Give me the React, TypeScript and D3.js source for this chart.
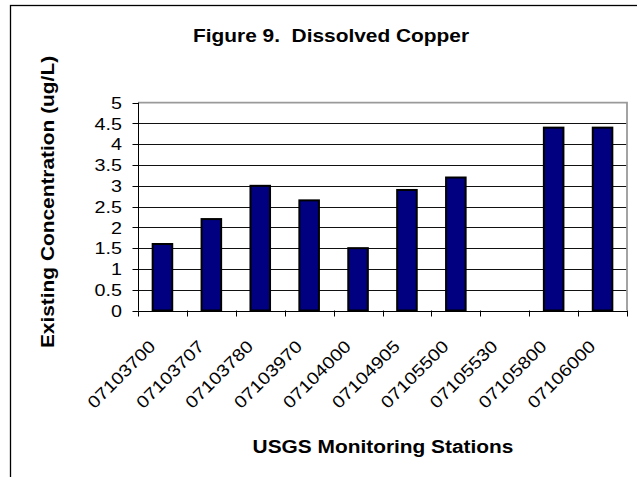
import { useEffect, useRef } from 'react';
import * as d3 from 'd3';

// station ids along the x axis
const stations = [
  '07103700', '07103707', '07103780', '07103970', '07104000',
  '07104905', '07105500', '07105530', '07105800', '07106000',
];
// dissolved copper, ug/L (07105530 has no bar)
const copper = [1.6, 2.2, 3.0, 2.65, 1.5, 2.9, 3.2, 0, 4.4, 4.4];
const yTicks = [0, 0.5, 1, 1.5, 2, 2.5, 3, 3.5, 4, 4.5, 5];

const W = 637;
const H = 477;
const FONT = '"Liberation Sans", Arial, sans-serif';
const STRETCH = 1.16; // the original text renders a bit wide

const App = () => {
  const svgRef = useRef<SVGSVGElement | null>(null);

  useEffect(() => {
    const svg = d3.select(svgRef.current);
    svg.selectAll('*').remove();

    const plot = { left: 138, right: 627, top: 102.7, bottom: 310.5 };

    const x = d3.scaleBand<string>()
      .domain(stations)
      .range([plot.left, plot.right])
      .paddingInner(0.6)
      .paddingOuter(0.3);
    const step = x.step();

    const y = d3.scaleLinear()
      .domain([0, 5])
      .range([plot.bottom, plot.top]);

    // outer frame (runs off the right and bottom of the picture)
    svg.append('rect')
      .attr('x', 10.5).attr('y', 5.5)
      .attr('width', 800).attr('height', 800)
      .attr('fill', '#fff')
      .attr('stroke', '#000')
      .attr('stroke-width', 1.3);

    // title
    svg.append('text')
      .attr('transform', `translate(331,42) scale(${STRETCH},1)`)
      .attr('text-anchor', 'middle')
      .style('font', `bold 18px ${FONT}`)
      .style('white-space', 'pre')
      .text('Figure 9.  Dissolved Copper');

    // gridlines
    svg.append('g')
      .selectAll('line')
      .data(yTicks.filter(t => t > 0 && t < 5))
      .join('line')
      .attr('x1', plot.left).attr('x2', plot.right)
      .attr('y1', d => Math.round(y(d)) + 0.5)
      .attr('y2', d => Math.round(y(d)) + 0.5)
      .attr('stroke', '#111')
      .attr('stroke-width', 1);

    // plot border top / right
    svg.append('path')
      .attr('d', `M${plot.left},${plot.top}H${plot.right}V${plot.bottom}`)
      .attr('fill', 'none')
      .attr('stroke', '#9a9a9a')
      .attr('stroke-width', 1.8);

    // bars
    svg.append('g')
      .selectAll('rect')
      .data(stations.map((s, i) => ({ s, v: copper[i] })).filter(d => d.v > 0))
      .join('rect')
      .attr('x', d => x(d.s)!)
      .attr('y', d => y(d.v))
      .attr('width', x.bandwidth())
      .attr('height', d => y(0) - y(d.v))
      .attr('fill', '#000080')
      .attr('stroke', '#000')
      .attr('stroke-width', 2);

    // y axis
    const yAxis = svg.append('g');
    yAxis.append('line')
      .attr('x1', plot.left + 0.5).attr('x2', plot.left + 0.5)
      .attr('y1', plot.top).attr('y2', plot.bottom)
      .attr('stroke', '#000');
    yAxis.selectAll('line.tick')
      .data(yTicks)
      .join('line')
      .attr('class', 'tick')
      .attr('x1', plot.left - 5.5).attr('x2', plot.left + 0.5)
      .attr('y1', d => Math.round(y(d)) + 0.5)
      .attr('y2', d => Math.round(y(d)) + 0.5)
      .attr('stroke', '#000');
    yAxis.selectAll('text')
      .data(yTicks)
      .join('text')
      .attr('transform', d => `translate(122,${y(d)}) scale(${STRETCH},1)`)
      .attr('text-anchor', 'end')
      .attr('dy', '0.36em')
      .style('font', `17px ${FONT}`)
      .text(d => d3.format('~g')(d));

    // x axis
    const xAxis = svg.append('g');
    xAxis.append('line')
      .attr('x1', plot.left).attr('x2', plot.right)
      .attr('y1', Math.round(plot.bottom) + 0.5)
      .attr('y2', Math.round(plot.bottom) + 0.5)
      .attr('stroke', '#000');
    xAxis.selectAll('line.tick')
      .data(d3.range(stations.length + 1))
      .join('line')
      .attr('class', 'tick')
      .attr('x1', i => Math.round(plot.left + i * step) + 0.5)
      .attr('x2', i => Math.round(plot.left + i * step) + 0.5)
      .attr('y1', plot.bottom)
      .attr('y2', plot.bottom + 6)
      .attr('stroke', '#000');
    xAxis.selectAll('text')
      .data(stations)
      .join('text')
      .attr('transform', d => {
        const cx = x(d)! + x.bandwidth() / 2;
        return `translate(${cx - 6},${plot.bottom + 37}) rotate(-45) scale(${STRETCH},1)`;
      })
      .attr('text-anchor', 'end')
      .style('font', `17px ${FONT}`)
      .text(d => d);

    // axis titles
    svg.append('text')
      .attr('transform', `translate(383,453) scale(${STRETCH},1)`)
      .attr('text-anchor', 'middle')
      .style('font', `bold 18px ${FONT}`)
      .text('USGS Monitoring Stations');

    svg.append('text')
      .attr('transform', `translate(54,202) rotate(-90) scale(${STRETCH},1)`)
      .attr('text-anchor', 'middle')
      .style('font', `bold 18px ${FONT}`)
      .text('Existing Concentration (ug/L)');
  }, []);

  return (
    <div style={{ position: 'fixed', left: 0, top: 0, width: W, height: H, background: '#fff' }}>
      <svg ref={svgRef} width={W} height={H} style={{ display: 'block' }}></svg>
    </div>
  );
};

export default App;
